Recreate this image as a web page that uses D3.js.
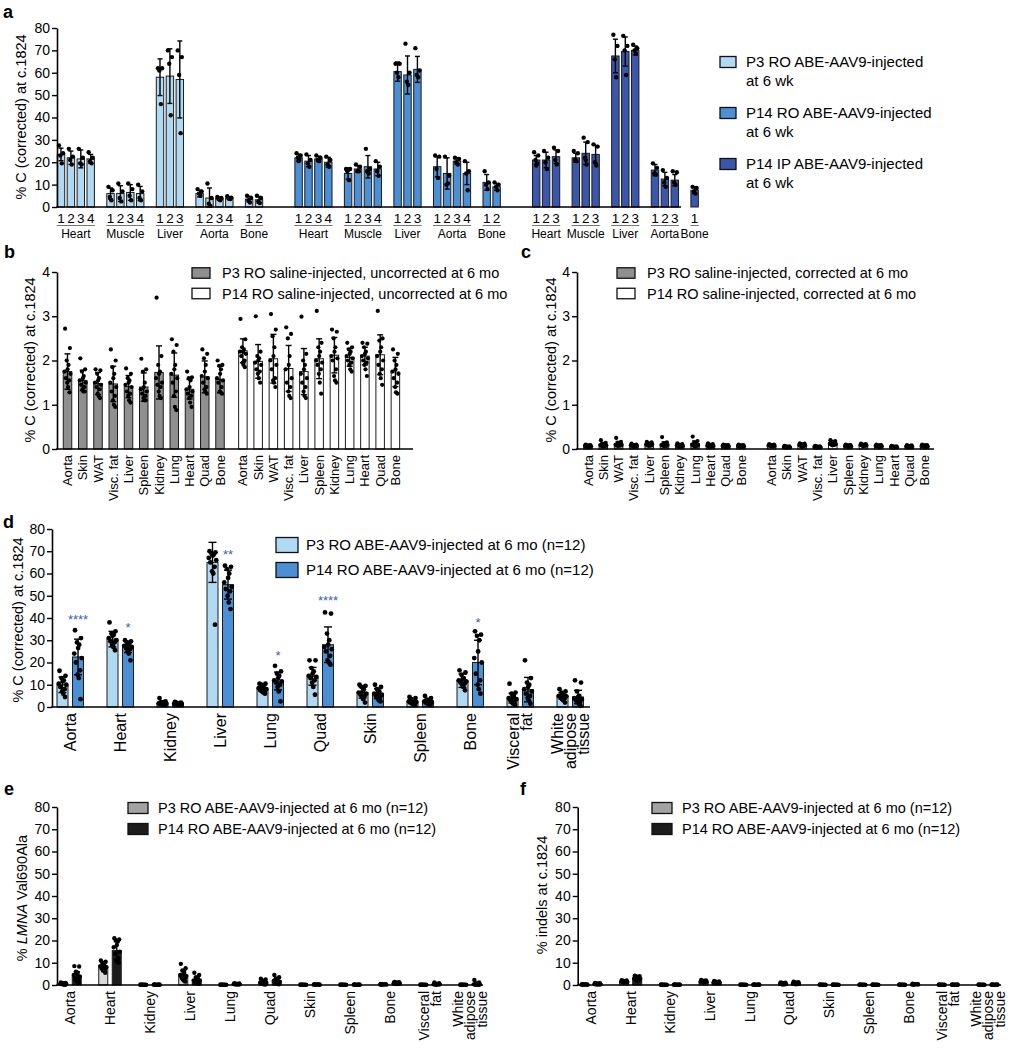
<!DOCTYPE html>
<html><head><meta charset="utf-8">
<script src="https://cdn.jsdelivr.net/npm/d3@7"></script>
<style>body{margin:0;background:#fff;} svg{display:block;}</style>
</head><body>
<svg id="fig" width="1016" height="1050"></svg>
<script>
// ================= DATA =================
// ---- Panel a ----
const aGroups = ["P3 RO ABE-AAV9-injected", "P14 RO ABE-AAV9-injected", "P14 IP ABE-AAV9-injected"];
const aGroupTime = "at 6 wk";
const aTissues = ["Heart", "Muscle", "Liver", "Aorta", "Bone"];
const aTicks = [0, 10, 20, 30, 40, 50, 60, 70, 80];
const aMeans = [
  [[23.5, 22, 21.5, 21.5], [6, 6, 6.5, 6], [58, 58.5, 57], [6, 4, 3.8, 4], [3.5, 3.2]],
  [[22, 20.5, 21.5, 20], [15, 17, 18, 17], [60.5, 59, 61.5], [18, 15, 20.5, 15], [11, 9]],
  [[21, 21, 22.5], [22, 24, 23.5], [67.5, 69.5, 70], [16.5, 12.5, 12], [7.5]]
];
const aSDs = [
  [[2.8, 3, 4, 2], [2.5, 3.5, 3.5, 3.2], [8.2, 12.2, 17.2], [1.5, 4.5, 0.7, 0.6], [1.3, 1.5]],
  [[1.5, 2.5, 1.2, 2.2], [2.5, 1.5, 5, 3], [4.3, 8.5, 5.8], [4.5, 7, 1.5, 5], [3.5, 1.5]],
  [[2, 3.5, 3], [2, 5, 4], [7.5, 6.5, 2], [2.5, 3, 2.5], [1.5]]
];
const aDots = [
  [
    [[27.5, 24, 23, 19.5], [26, 22.5, 21, 19], [26, 22, 19.5, 19], [24.5, 22, 20.5, 19.5]],
    [[9, 7.5, 4.5, 3], [10.5, 7, 4, 2.5], [10.5, 8, 5, 3], [10, 7, 4, 3]],
    [[62, 62, 61, 46], [70, 67, 64, 41], [70, 67, 59, 33]],
    [[8, 7, 6, 5], [10.5, 4, 1.5, 0.5], [4.5, 4, 3.5, 3], [4.8, 4.2, 3.8, 3.5]],
    [[5, 4, 3, 2], [5, 4, 2.5, 1.8]]
  ],
  [
    [[24, 23, 22, 21, 20.5], [23.5, 21, 19.5, 18], [23, 22, 21, 20.5], [22.5, 21, 19, 18]],
    [[17, 17, 16, 12], [19, 18, 16, 16], [26, 17, 16, 15, 15.5], [20.5, 18, 16, 14]],
    [[64, 64, 60, 58], [73, 60, 56, 54.5], [71, 61, 59, 58]],
    [[23, 22.5, 17, 13], [22.5, 14, 10, 10.5], [22, 21.5, 20, 19], [20.5, 16, 15, 7.5]],
    [[16, 11, 10, 8], [11, 10, 9, 7.5]]
  ],
  [
    [[24.5, 23, 21, 19.5, 18.5], [25, 22, 20, 17], [26.5, 25, 21, 19]],
    [[25, 24, 21, 20.5], [31, 29, 22, 19, 21], [28, 27, 20, 18.5]],
    [[77, 72, 66, 58], [76.5, 72, 70, 59], [72.5, 71, 70, 68.5]],
    [[19.5, 17.5, 15, 14.5], [16.5, 13, 11, 9], [16, 15.5, 11, 10]],
    [[9, 8.5, 7, 6]]
  ]
];

// ---- Panels b & c ----
const bcCats = ["Aorta", "Skin", "WAT", "Visc. fat", "Liver", "Spleen", "Kidney", "Lung", "Heart", "Quad", "Bone"];
const bcTicks = [0, 1, 2, 3, 4];
const bSeries = ["P3 RO saline-injected, uncorrected at 6 mo", "P14 RO saline-injected, uncorrected at 6 mo"];
const bMeans = [
  [1.75, 1.55, 1.48, 1.47, 1.41, 1.4, 1.73, 1.67, 1.35, 1.63, 1.57],
  [2.22, 1.98, 2.04, 1.82, 1.75, 2.04, 2.12, 2.07, 2.1, 2.13, 1.74]
];
const bSDs = [
  [0.4, 0.23, 0.25, 0.4, 0.25, 0.32, 0.6, 0.5, 0.22, 0.36, 0.3],
  [0.27, 0.38, 0.55, 0.52, 0.52, 0.45, 0.4, 0.2, 0.2, 0.45, 0.33]
];
const bDots = [
  [
    [2.72, 2.28, 2.0, 1.9, 1.8, 1.75, 1.7, 1.6, 1.55, 1.5, 1.4, 1.28],
    [2.05, 1.8, 1.75, 1.65, 1.6, 1.55, 1.5, 1.45, 1.4, 1.35, 1.3, 1.3],
    [1.8, 1.78, 1.7, 1.6, 1.55, 1.5, 1.45, 1.4, 1.35, 1.25, 1.2, 1.15],
    [2.25, 2.0, 1.85, 1.7, 1.6, 1.5, 1.4, 1.3, 1.2, 1.1, 1.0, 0.95],
    [1.82, 1.7, 1.6, 1.55, 1.5, 1.45, 1.4, 1.3, 1.25, 1.2, 1.1, 1.05],
    [2.04, 1.8, 1.75, 1.5, 1.4, 1.35, 1.3, 1.25, 1.2, 1.15, 1.1, 1.1],
    [3.42, 2.1, 1.9, 1.75, 1.7, 1.6, 1.5, 1.45, 1.4, 1.3, 1.2, 1.15],
    [2.48, 2.35, 2.2, 1.9, 1.8, 1.7, 1.6, 1.5, 1.3, 1.2, 0.95, 0.88],
    [1.75, 1.62, 1.6, 1.55, 1.4, 1.35, 1.3, 1.25, 1.2, 1.15, 1.05, 0.95],
    [2.25, 2.15, 2.05, 1.9, 1.75, 1.65, 1.6, 1.5, 1.4, 1.35, 1.3, 1.25],
    [2.0, 1.9, 1.88, 1.8, 1.7, 1.6, 1.55, 1.5, 1.4, 1.3, 1.28, 1.25]
  ],
  [
    [2.94, 2.48, 2.3, 2.25, 2.2, 2.2, 2.15, 2.1, 2.0, 1.95, 1.9, 1.85],
    [3.0, 2.2, 2.1, 2.05, 2.0, 1.95, 1.9, 1.8, 1.75, 1.7, 1.6, 1.5],
    [3.05, 2.7, 2.55, 2.3, 2.1, 2.0, 1.9, 1.8, 1.6, 1.55, 1.5, 1.4],
    [2.75, 2.6, 2.5, 2.1, 1.9, 1.8, 1.6, 1.5, 1.4, 1.3, 1.2, 1.15],
    [2.99, 2.15, 2.0, 1.9, 1.8, 1.7, 1.6, 1.5, 1.4, 1.3, 1.2, 1.15],
    [3.12, 2.4, 2.3, 2.2, 2.1, 2.0, 1.95, 1.9, 1.8, 1.7, 1.5, 1.25],
    [2.7, 2.65, 2.5, 2.3, 2.2, 2.1, 2.05, 2.0, 1.8, 1.65, 1.55, 1.5],
    [2.4, 2.3, 2.25, 2.2, 2.15, 2.1, 2.05, 2.0, 1.95, 1.9, 1.8, 1.75],
    [2.4, 2.38, 2.3, 2.2, 2.15, 2.1, 2.05, 2.0, 1.95, 1.9, 1.8, 1.65],
    [3.12, 2.5, 2.45, 2.3, 2.2, 2.1, 2.0, 1.9, 1.8, 1.7, 1.6, 1.45],
    [2.25, 2.15, 2.0, 1.9, 1.8, 1.75, 1.7, 1.6, 1.5, 1.4, 1.28, 1.25]
  ]
];
const cSeries = ["P3 RO saline-injected, corrected at 6 mo", "P14 RO saline-injected, corrected at 6 mo"];
const cMeans = [
  [0.07, 0.1, 0.12, 0.08, 0.11, 0.11, 0.08, 0.12, 0.08, 0.07, 0.07],
  [0.08, 0.05, 0.09, 0.05, 0.13, 0.07, 0.09, 0.07, 0.05, 0.06, 0.07]
];
const cSDs = [
  [0.02, 0.04, 0.05, 0.02, 0.03, 0.05, 0.03, 0.06, 0.03, 0.02, 0.02],
  [0.02, 0.01, 0.03, 0.01, 0.04, 0.02, 0.02, 0.02, 0.01, 0.02, 0.02]
];
const cDots = [
  [
    [0.1, 0.09, 0.08, 0.08, 0.07, 0.07, 0.06, 0.06, 0.05, 0.05],
    [0.2, 0.14, 0.12, 0.11, 0.1, 0.09, 0.08, 0.07, 0.07, 0.06],
    [0.25, 0.16, 0.14, 0.12, 0.11, 0.1, 0.09, 0.08, 0.08, 0.07],
    [0.12, 0.1, 0.09, 0.09, 0.08, 0.08, 0.07, 0.07, 0.06, 0.05],
    [0.16, 0.15, 0.13, 0.12, 0.11, 0.1, 0.1, 0.09, 0.08, 0.07],
    [0.27, 0.15, 0.13, 0.12, 0.1, 0.09, 0.09, 0.08, 0.07, 0.06],
    [0.13, 0.11, 0.1, 0.09, 0.08, 0.08, 0.07, 0.06, 0.06, 0.05],
    [0.28, 0.18, 0.15, 0.13, 0.11, 0.1, 0.09, 0.08, 0.07, 0.06],
    [0.13, 0.11, 0.1, 0.09, 0.08, 0.08, 0.07, 0.06, 0.06, 0.05],
    [0.1, 0.09, 0.09, 0.08, 0.07, 0.07, 0.06, 0.06, 0.05, 0.05],
    [0.1, 0.09, 0.08, 0.08, 0.07, 0.07, 0.06, 0.06, 0.05, 0.05]
  ],
  [
    [0.11, 0.1, 0.09, 0.09, 0.08, 0.08, 0.07, 0.07, 0.06, 0.06],
    [0.07, 0.06, 0.06, 0.05, 0.05, 0.05, 0.04, 0.04, 0.04, 0.03],
    [0.13, 0.12, 0.11, 0.1, 0.09, 0.09, 0.08, 0.07, 0.06, 0.05],
    [0.07, 0.06, 0.06, 0.05, 0.05, 0.05, 0.04, 0.04, 0.04, 0.03],
    [0.2, 0.18, 0.17, 0.15, 0.13, 0.12, 0.11, 0.1, 0.09, 0.08],
    [0.1, 0.09, 0.08, 0.08, 0.07, 0.07, 0.06, 0.06, 0.05, 0.05],
    [0.12, 0.11, 0.1, 0.1, 0.09, 0.09, 0.08, 0.08, 0.07, 0.06],
    [0.1, 0.09, 0.08, 0.08, 0.07, 0.07, 0.06, 0.06, 0.05, 0.05],
    [0.07, 0.06, 0.06, 0.05, 0.05, 0.05, 0.04, 0.04, 0.04, 0.03],
    [0.09, 0.08, 0.07, 0.07, 0.06, 0.06, 0.05, 0.05, 0.04, 0.04],
    [0.1, 0.09, 0.08, 0.08, 0.07, 0.07, 0.06, 0.06, 0.05, 0.05]
  ]
];

// ---- Panels d, e, f ----
const defCats = ["Aorta", "Heart", "Kidney", "Liver", "Lung", "Quad", "Skin", "Spleen", "Bone", "Visceral\nfat", "White\nadipose\ntissue"];
const defTicks = [0, 10, 20, 30, 40, 50, 60, 70, 80];
const dSeries = ["P3 RO ABE-AAV9-injected at 6 mo (n=12)", "P14 RO ABE-AAV9-injected at 6 mo (n=12)"];
const dMeans = [
  [10, 30.5, 1.8, 65, 8.5, 13.8, 6.5, 2.5, 11.8, 4, 5],
  [22.5, 27, 1.5, 55, 11.7, 28, 6, 2.5, 20, 7.8, 4.5]
];
const dSDs = [
  [3.5, 3.5, 0.8, 9, 1.5, 4, 2.5, 1, 3, 2.2, 1.5],
  [8, 2.5, 0.5, 6.5, 4, 8, 2.3, 1, 10, 5.5, 3]
];
const dDots = [
  [
    [16.3, 14, 13, 12, 11.5, 10.5, 10, 9, 8, 7, 6, 4.5],
    [38, 34, 33, 32.5, 32, 31, 30, 29.5, 29, 28, 27, 25.5],
    [4, 2.5, 2.2, 2, 1.8, 1.6, 1.5, 1.4, 1.3, 1.2, 1.1, 1],
    [70, 69.5, 69, 68.5, 68, 67, 66, 65, 63, 61, 60, 37],
    [10.5, 10.5, 10, 9.5, 9, 8.5, 8, 7.5, 7, 7, 6.5, 6],
    [21, 21, 17.5, 16, 15, 14, 13.5, 13, 12, 11, 9, 5.5],
    [10, 9.5, 9, 8, 7, 6.5, 6, 5.5, 5, 4.5, 3.5, 2],
    [4.5, 4, 3.5, 3, 2.8, 2.5, 2.3, 2, 1.8, 1.5, 1.3, 1],
    [16.5, 15.5, 14.5, 13, 12.5, 12, 11.5, 11, 10.5, 10, 9, 7.5],
    [10.5, 6.5, 6, 5, 4.5, 4, 3.5, 3, 2.5, 2, 1.5, 1],
    [8, 7, 6.5, 6, 5.5, 5, 4.8, 4.5, 4, 3.5, 3, 2]
  ],
  [
    [34.5, 31, 29, 28, 26.5, 24, 22, 20, 16.5, 14.5, 13, 3.5],
    [30, 29.5, 29, 28.5, 28, 27.5, 27, 26.5, 26, 25, 24, 21],
    [2.3, 2, 1.8, 1.7, 1.6, 1.5, 1.4, 1.3, 1.2, 1.1, 1, 1],
    [63.5, 63, 62, 60, 58, 56, 54, 53, 52, 50, 47, 44],
    [18.5, 16, 15, 14, 13, 12, 11.5, 11, 10, 9, 7, 2.5],
    [42.5, 42, 33, 30, 28, 27, 26, 25, 23, 21, 20, 19],
    [10, 9, 8, 7, 6.5, 6, 5.5, 5, 4.5, 4, 3, 2.5],
    [5, 4, 3.3, 3, 2.7, 2.5, 2.3, 2, 1.8, 1.5, 1.2, 1],
    [34, 32.5, 32, 30, 25, 22, 20, 15, 12, 10, 8, 6],
    [21, 13, 11, 10, 9, 8, 7, 6, 5, 4, 3, 1.5],
    [12, 11, 7, 5, 4.5, 4, 3.5, 3, 2.5, 2, 1.5, 0.5]
  ]
];
const dSigLabels = ["****", "*", "", "**", "*", "****", "", "", "*", "", ""];
const dSigHeights = [40.5, 37, null, 70, 24.5, 49, null, null, 39.5, null, null];

const efSeries = ["P3 RO ABE-AAV9-injected at 6 mo (n=12)", "P14 RO ABE-AAV9-injected at 6 mo (n=12)"];
const eMeans = [
  [0.5, 8.5, 0.1, 4.5, 0.1, 1.2, 0.1, 0.1, 0.25, 0.1, 0.1],
  [4, 15.5, 0.15, 2.3, 0.4, 1.8, 0.2, 0.15, 0.8, 0.4, 0.5]
];
const eSDs = [
  [0.3, 1.5, 0.05, 2, 0.05, 0.7, 0.05, 0.05, 0.1, 0.05, 0.05],
  [2, 4, 0.05, 1.4, 0.2, 1.2, 0.1, 0.05, 0.3, 0.3, 0.6]
];
const eDots = [
  [
    [1.1, 0.9, 0.8, 0.7, 0.6, 0.5, 0.4, 0.4, 0.3, 0.3, 0.2, 0.1],
    [11, 10.5, 10, 9.5, 9, 8.5, 8, 7.5, 7, 6.5, 6.5, 5.5],
    [0.2, 0.15, 0.12, 0.1, 0.1, 0.08, 0.06, 0.05],
    [9.5, 7.5, 6.5, 5.5, 5, 4.5, 4, 3.5, 3, 2.5, 2, 1.5],
    [0.2, 0.15, 0.12, 0.1, 0.1, 0.08, 0.06, 0.05],
    [2.8, 2.5, 2, 1.5, 1.3, 1.1, 1, 0.8, 0.6, 0.5, 0.3, 0.2],
    [0.2, 0.15, 0.12, 0.1, 0.1, 0.08, 0.06, 0.05],
    [0.2, 0.15, 0.12, 0.1, 0.1, 0.08, 0.06, 0.05],
    [0.5, 0.4, 0.3, 0.3, 0.2, 0.2, 0.15, 0.1],
    [0.2, 0.15, 0.12, 0.1, 0.1, 0.08, 0.06, 0.05],
    [0.2, 0.15, 0.12, 0.1, 0.1, 0.08, 0.06, 0.05]
  ],
  [
    [8.5, 8.3, 6, 5.5, 5, 4.5, 3.8, 3, 2.5, 2, 1.5, 1],
    [21, 20.5, 20, 19.5, 18, 17, 15, 14, 12, 11, 10.5, 10],
    [0.3, 0.2, 0.15, 0.15, 0.12, 0.1, 0.1, 0.08],
    [5.5, 4.5, 3.5, 3, 2.5, 2, 2, 1.5, 1.5, 1, 0.8, 0.5],
    [0.8, 0.7, 0.6, 0.5, 0.4, 0.4, 0.3, 0.3, 0.2, 0.2],
    [4.5, 3.5, 3, 2.5, 2, 1.8, 1.5, 1.2, 1, 0.8, 0.5, 0.3],
    [0.4, 0.3, 0.25, 0.2, 0.2, 0.15, 0.1, 0.1],
    [0.3, 0.2, 0.15, 0.15, 0.12, 0.1, 0.1, 0.08],
    [1.4, 1.3, 1.1, 1, 0.9, 0.8, 0.7, 0.6, 0.5, 0.4],
    [1.2, 0.8, 0.6, 0.5, 0.4, 0.3, 0.3, 0.2, 0.2, 0.1],
    [2.3, 1.2, 0.8, 0.5, 0.4, 0.3, 0.2, 0.2, 0.1, 0.1]
  ]
];
const fMeans = [
  [0.2, 1.5, 0.1, 1.6, 0.1, 0.6, 0.1, 0.1, 0.1, 0.1, 0.1],
  [0.5, 3, 0.15, 1.2, 0.15, 0.8, 0.1, 0.1, 0.3, 0.15, 0.15]
];
const fSDs = [
  [0.1, 0.4, 0.05, 0.4, 0.05, 0.3, 0.05, 0.05, 0.05, 0.05, 0.05],
  [0.2, 0.7, 0.05, 0.3, 0.05, 0.4, 0.05, 0.05, 0.15, 0.05, 0.05]
];
const fDots = [
  [
    [0.4, 0.3, 0.3, 0.2, 0.2, 0.15, 0.1, 0.1],
    [2.2, 2, 1.8, 1.7, 1.6, 1.5, 1.4, 1.3, 1.2, 1.1],
    [0.2, 0.15, 0.12, 0.1, 0.1, 0.08, 0.06, 0.05],
    [2.3, 2, 1.9, 1.8, 1.6, 1.5, 1.4, 1.3, 1.2, 1.1],
    [0.2, 0.15, 0.12, 0.1, 0.1, 0.08, 0.06, 0.05],
    [1.2, 1, 0.9, 0.7, 0.6, 0.5, 0.4, 0.4, 0.3, 0.2],
    [0.2, 0.15, 0.12, 0.1, 0.1, 0.08, 0.06, 0.05],
    [0.2, 0.15, 0.12, 0.1, 0.1, 0.08, 0.06, 0.05],
    [0.2, 0.15, 0.12, 0.1, 0.1, 0.08, 0.06, 0.05],
    [0.2, 0.15, 0.12, 0.1, 0.1, 0.08, 0.06, 0.05],
    [0.2, 0.15, 0.12, 0.1, 0.1, 0.08, 0.06, 0.05]
  ],
  [
    [0.9, 0.8, 0.7, 0.6, 0.5, 0.4, 0.3, 0.3, 0.2, 0.2],
    [4.2, 4, 3.8, 3.5, 3.2, 3, 2.8, 2.5, 2.2, 2],
    [0.3, 0.2, 0.15, 0.15, 0.12, 0.1, 0.1, 0.08],
    [1.8, 1.6, 1.5, 1.3, 1.2, 1.1, 1, 0.9, 0.8, 0.8],
    [0.3, 0.2, 0.15, 0.15, 0.12, 0.1, 0.1, 0.08],
    [1.5, 1.3, 1.1, 1, 0.8, 0.7, 0.6, 0.5, 0.4, 0.3],
    [0.2, 0.15, 0.12, 0.1, 0.1, 0.08, 0.06, 0.05],
    [0.2, 0.15, 0.12, 0.1, 0.1, 0.08, 0.06, 0.05],
    [0.6, 0.5, 0.4, 0.3, 0.3, 0.2, 0.2, 0.1],
    [0.3, 0.2, 0.15, 0.15, 0.12, 0.1, 0.1, 0.08],
    [0.3, 0.2, 0.15, 0.15, 0.12, 0.1, 0.1, 0.08]
  ]
];

// ================= DRAWING =================
const FONT = '"Liberation Sans", Arial, Helvetica, sans-serif';
const svg = d3.select("#fig").attr("font-family", FONT);
const JIT = [-2.4, 2.4, -0.8, 1.0, 0.1, -3.0, 3.0, -1.7, 1.7, -0.3, 0.6, 2.0];

function yAxis(g, y, x0, ticks) {
  const ax = g.append("g").attr("transform", `translate(${x0},0)`)
    .call(d3.axisLeft(y).tickValues(ticks).tickFormat(d3.format("d")).tickSize(5).tickSizeOuter(0).tickPadding(2));
  ax.attr("font-family", FONT).attr("font-size", 14);
  ax.select(".domain").attr("stroke", "#000").attr("stroke-width", 1.6);
  ax.selectAll(".tick line").attr("stroke", "#000").attr("stroke-width", 1.4);
  ax.selectAll(".tick text").attr("fill", "#000");
}
function xLine(g, y, x0, x1) {
  g.append("line").attr("x1", x0 - 0.8).attr("x2", x1).attr("y1", y(0)).attr("y2", y(0))
    .attr("stroke", "#000").attr("stroke-width", 1.6);
}
function yTitle(g, parts, cx, cy) {
  const t = g.append("text").attr("transform", `translate(${cx},${cy}) rotate(-90)`)
    .attr("text-anchor", "middle").attr("dy", "0.35em").attr("font-size", 14.5).attr("fill", "#000");
  parts.forEach(p => t.append("tspan").attr("font-style", p[1] ? "italic" : "normal").text(p[0]));
}
function panelLabel(txt, x, y) {
  svg.append("text").attr("x", x).attr("y", y).attr("font-size", 18).attr("font-weight", "bold").text(txt);
}
function drawBars(g, items, y, bw, cap, r, jitScale) {
  g.append("g").selectAll("rect").data(items).join("rect")
    .attr("x", d => d.cx - bw / 2).attr("y", d => y(d.m)).attr("width", bw)
    .attr("height", d => Math.max(0, y(0) - y(d.m)))
    .attr("fill", d => d.fill).attr("stroke", "#1c1c1c").attr("stroke-width", 1);
  const eb = g.append("g").attr("stroke", "#000").attr("stroke-width", 1.4);
  items.forEach(d => {
    const lo = Math.max(0, d.m - d.sd), hi = d.m + d.sd;
    eb.append("line").attr("x1", d.cx).attr("x2", d.cx).attr("y1", y(lo)).attr("y2", y(hi));
    eb.append("line").attr("x1", d.cx - cap / 2).attr("x2", d.cx + cap / 2).attr("y1", y(hi)).attr("y2", y(hi));
    eb.append("line").attr("x1", d.cx - cap / 2).attr("x2", d.cx + cap / 2).attr("y1", y(lo)).attr("y2", y(lo));
  });
  const dots = [];
  items.forEach(d => d.dots.forEach((v, k) => dots.push({x: d.cx + JIT[k % JIT.length] * jitScale, v})));
  g.append("g").selectAll("circle").data(dots).join("circle")
    .attr("cx", d => d.x).attr("cy", d => y(d.v)).attr("r", r).attr("fill", "#000");
}
function rotLabels(g, cats, xs, yTop, fs, lineGap) {
  cats.forEach((c, i) => {
    const lines = c.split("\n");
    const n = lines.length;
    lines.forEach((ln, j) => {
      const cx = xs[i] + (j - (n - 1) / 2) * lineGap;
      g.append("text").attr("transform", `translate(${cx},${yTop}) rotate(-90)`)
        .attr("text-anchor", "end").attr("dy", "0.35em").attr("font-size", fs).attr("fill", "#000").text(ln);
    });
  });
}
function legend(g, names, fills, sx, sw, sh, tx, ys, fs) {
  names.forEach((nm, i) => {
    g.append("rect").attr("x", sx).attr("y", ys[i] - sh / 2).attr("width", sw).attr("height", sh)
      .attr("fill", fills[i]).attr("stroke", "#111").attr("stroke-width", 1.3);
    g.append("text").attr("x", tx).attr("y", ys[i]).attr("dy", "0.36em").attr("font-size", fs).attr("fill", "#000").text(nm);
  });
}

// ---------- Panel a ----------
{
  const g = svg.append("g");
  const colors = ["#b0d9f3", "#4b90d4", "#3b57ad"];
  const bars = [], spans = [];
  let slot = 0;
  aGroups.forEach((gname, gi) => {
    aTissues.forEach((t, ti) => {
      const first = slot;
      aMeans[gi][ti].forEach((m, k) => {
        bars.push({gi, ti, k, slot, m, sd: aSDs[gi][ti][k], dots: aDots[gi][ti][k], fill: colors[gi]});
        slot++;
      });
      spans.push({name: t, first, last: slot - 1});
      slot++;
    });
    slot += 2;
  });
  const nSlots = slot - 3;
  const x = d3.scaleBand().domain(d3.range(nSlots)).range([56.05, 56.05 + 9.9 * nSlots]).paddingInner(0.25).paddingOuter(0.125);
  const y = d3.scaleLinear().domain([0, 80]).range([207, 28]);
  const bw = x.bandwidth();
  bars.forEach(b => b.cx = x(b.slot) + bw / 2);
  drawBars(g, bars, y, bw, 5, 2.2, 0.85);
  yAxis(g, y, 57, aTicks);
  xLine(g, y, 57, 681);
  g.append("g").selectAll("text").data(bars).join("text")
    .attr("x", d => d.cx).attr("y", 222.5).attr("text-anchor", "middle").attr("font-size", 13.5).text(d => d.k + 1);
  spans.forEach(s => {
    const xl = x(s.first) - 0.5, xr = x(s.last) + bw + 0.5;
    g.append("line").attr("x1", xl).attr("x2", xr).attr("y1", 225.5).attr("y2", 225.5).attr("stroke", "#777").attr("stroke-width", 1);
    g.append("text").attr("x", (xl + xr) / 2).attr("y", 238).attr("text-anchor", "middle").attr("font-size", 12).text(s.name);
  });
  yTitle(g, [["% C (corrected) at c.1824", false]], 21, 117);
  aGroups.forEach((nm, i) => {
    const cy = 62 + i * 51;
    g.append("rect").attr("x", 720).attr("y", cy - 5.5).attr("width", 16).attr("height", 11)
      .attr("fill", colors[i]).attr("stroke", "#111").attr("stroke-width", 1.3);
    g.append("text").attr("x", 746).attr("y", cy).attr("dy", "0.36em").attr("font-size", 15).text(nm);
    g.append("text").attr("x", 746).attr("y", cy + 19).attr("dy", "0.36em").attr("font-size", 15).text(aGroupTime);
  });
  panelLabel("a", 3, 18);
}

// ---------- Panels b & c ----------
function bcPanel(series, means, sds, dots, xScale, offset, x0, x1, titleX, legSx, legTx, label, labelX) {
  const g = svg.append("g");
  const fills = ["#8f8f8f", "#ffffff"];
  const y = d3.scaleLinear().domain([0, 4]).range([449, 272]);
  const items = [];
  const xs = [];
  means.forEach((arr, s) => arr.forEach((m, i) => {
    const cx = xScale(s * offset + i);
    items.push({cx, m, sd: sds[s][i], dots: dots[s][i], fill: fills[s]});
    xs.push(cx);
  }));
  drawBars(g, items, y, 8.5, 6, 2.1, 1.0);
  yAxis(g, y, x0, bcTicks);
  xLine(g, y, x0, x1);
  rotLabels(g, bcCats.concat(bcCats), xs, 455, 13, 12);
  yTitle(g, [["% C (corrected) at c.1824", false]], titleX, 360);
  legend(g, series, fills, legSx, 18, 10.5, legTx, [273, 293.5], 14.5);
  panelLabel(label, labelX, 258);
}
bcPanel(bSeries, bMeans, bSDs, bDots, d3.scaleLinear().domain([0, 21.5]).range([67.5, 395.4]), 11.5, 57, 413, 30, 192, 222, "b", 4);
bcPanel(cSeries, cMeans, cSDs, cDots, d3.scaleLinear().domain([0, 22]).range([588, 924.6]), 12, 577, 934, 551, 617, 647, "c", 521);

// ---------- Panels d, e, f ----------
function defPanel(o) {
  const g = svg.append("g");
  const y = d3.scaleLinear().domain([0, 80]).range(o.yRange);
  const xb = d3.scaleBand().domain(d3.range(defCats.length)).range(o.xRange);
  const off = d3.scalePoint().domain([0, 1]).range([-o.off, o.off]);
  const centers = defCats.map((c, i) => xb(i) + xb.bandwidth() / 2);
  const items = [];
  o.means.forEach((arr, s) => arr.forEach((m, i) => {
    items.push({cx: centers[i] + off(s), m, sd: o.sds[s][i], dots: o.dots[s][i], fill: o.fills[s]});
  }));
  drawBars(g, items, y, o.bw, o.cap, o.r, o.jit);
  yAxis(g, y, o.x0, defTicks);
  xLine(g, y, o.x0, o.x1);
  rotLabels(g, defCats, centers, y(0) + 6, o.labFs, o.labGap);
  yTitle(g, o.title, o.titleX, o.titleY);
  legend(g, o.series, o.legFills, o.legSx, o.legSw, o.legSh, o.legTx, o.legYs, o.legFs);
  if (o.sig) {
    o.sig.labels.forEach((s, i) => {
      if (!s) return;
      g.append("text").attr("x", centers[i] + off(1)).attr("y", y(o.sig.heights[i]) + 7.5)
        .attr("text-anchor", "middle").attr("font-size", 13).attr("fill", "#3a5bb8").text(s);
    });
  }
  panelLabel(o.label, o.labelX, o.labelY);
}
defPanel({
  means: dMeans, sds: dSDs, dots: dDots, fills: ["#b0d9f3", "#4b90d4"], legFills: ["#b0d9f3", "#4b90d4"],
  yRange: [707, 529], xRange: [45.25, 595.25], off: 7.75, bw: 11, cap: 8, r: 2.4, jit: 1.25,
  x0: 52, x1: 590, title: [["% C (corrected) at c.1824", false]], titleX: 18, titleY: 620,
  labFs: 16, labGap: 13,
  series: dSeries, legSx: 276, legSw: 22, legSh: 15, legTx: 306, legYs: [545, 570], legFs: 15,
  sig: {labels: dSigLabels, heights: dSigHeights}, label: "d", labelX: 3, labelY: 528
});
defPanel({
  means: eMeans, sds: eSDs, dots: eDots, fills: ["#d9d9d9", "#1c1c1c"], legFills: ["#a3a3a3", "#1c1c1c"],
  yRange: [985, 807], xRange: [50, 490], off: 6.75, bw: 9, cap: 6, r: 2.2, jit: 1.0,
  x0: 57, x1: 483, title: [["% ", false], ["LMNA", true], [" Val690Ala", false]], titleX: 22, titleY: 898,
  labFs: 14, labGap: 12,
  series: efSeries, legSx: 128, legSw: 20, legSh: 11, legTx: 158, legYs: [808, 829], legFs: 14.5,
  label: "e", labelX: 4, labelY: 795
});
defPanel({
  means: fMeans, sds: fSDs, dots: fDots, fills: ["#d9d9d9", "#1c1c1c"], legFills: ["#a3a3a3", "#1c1c1c"],
  yRange: [985, 807], xRange: [571.15, 1007.85], off: 6.5, bw: 9, cap: 6, r: 2.2, jit: 1.0,
  x0: 577.7, x1: 1001, title: [["% indels at c.1824", false]], titleX: 542, titleY: 895,
  labFs: 14, labGap: 12,
  series: efSeries, legSx: 652, legSw: 20, legSh: 11, legTx: 682, legYs: [808, 829], legFs: 14.5,
  label: "f", labelX: 520, labelY: 795
});
</script>
</body></html>
